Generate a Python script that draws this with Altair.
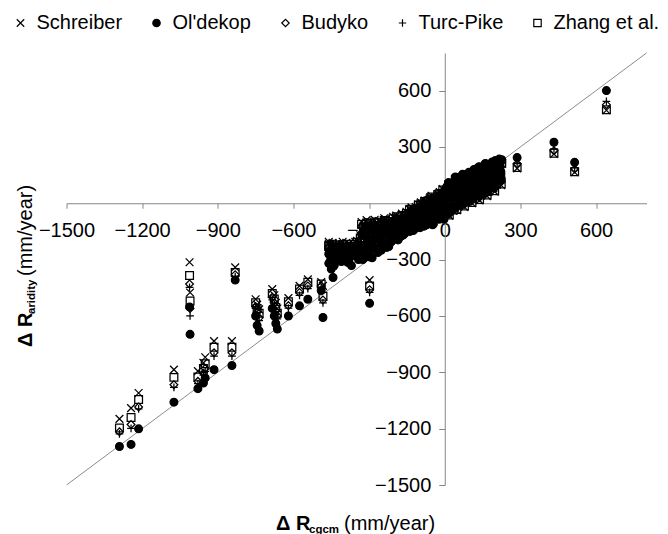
import altair as alt
import pandas as pd

FONT = "Liberation Sans"

# --- data (mm/year) ---
site_x = [
    -1290, -1244, -1214, -1074, -1012, -1010, -979, -957, -950, -915,
    -844, -831, -750, -744, -736, -684, -676, -670, -664, -620,
    -576, -543, -490, -483, -460, -450, -443, -430, -405, -380,
    -370, -355, -298,
    -335, -330, -325, -318, -310, -305, -300, -290, -283, -278,
    -270, -265, -255, -248, -240, -230, -225, -218, -212, -205,
    -195, -190, -182, -176, -170, -158, -152, -145, -138, -132,
    -120, -115, -108, -100, -95, -82, -76, -70, -62, -58,
    -45, -38, -32, -25, -20, -10, -5, 0,
    8, 12, 18, 22, 28, 34, 38, 45, 48, 53,
    58, 63, 68, 74, 78, 83, 88, 93, 98, 103,
    108, 113, 118, 123, 128, 133, 138, 143, 148, 153,
    158, 163, 168, 173, 178, 183, 188, 193, 198, 203,
    208, 212, 216, 220, 224,
    287, 433, 515, 641,
]

schreiber = [
    -1148, -1091, -1010, -886, -314, -475, -894, -850, -820, -734,
    -734, -341, -511, -540, -565, -457, -490, -530, -560, -505,
    -440, -405, -420, -440, -205, -260, -300, -220, -205, -215,
    -240, -205, -409,
    -170, -100, -210, -150, -90, -120, -200, -140, -160, -88,
    -110, -185, -130, -150, -80, -165, -95, -115, -140, -72,
    -140, -80, -100, -125, -55, -110, -45, -75, -100, -22,
    -90, -20, -45, -75, 5, -70, 10, -25, -50, 32,
    -60, 30, -5, -35, 60, -40, 40, 15,
    66, 33, -66, 55, 10, -40, 86, 62, -37, 90,
    36, 0, 113, 78, -20, 18, 57, 95, 132, 36,
    0, 117, 79, 45, 152, 127, 15, 62, 102, 140,
    170, 76, 38, 159, 125, 90, 184, 159, 62, 104,
    144, 173, 198, 124, 96,
    186, 262, 165, 495,
]

oldekop = [
    -1295, -1284, -1201, -1059, -552, -698, -987, -957, -930, -886,
    -864, -409, -600, -650, -680, -560, -600, -640, -670, -600,
    -546, -511, -465, -608, -320, -350, -395, -300, -290, -300,
    -332, -280, -533,
    -250, -165, -300, -230, -160, -200, -285, -215, -240, -150,
    -180, -262, -200, -225, -140, -235, -160, -178, -205, -128,
    -190, -138, -155, -178, -108, -160, -98, -125, -150, -72,
    -138, -68, -92, -125, -40, -122, -35, -70, -100, -12,
    -110, -10, -48, -78, 20, -82, 5, -20,
    88, 50, -50, 75, 30, -20, 110, 85, -15, 115,
    60, 25, 140, 105, 5, 45, 85, 125, 162, 65,
    28, 148, 110, 75, 185, 160, 45, 95, 135, 175,
    205, 110, 70, 195, 160, 125, 220, 195, 95, 140,
    180, 210, 235, 160, 130,
    243, 325, 218, 600,
]

budyko = [
    -1217, -1178, -1085, -966, -430, -560, -948, -905, -880, -796,
    -796, -380, -550, -580, -610, -500, -530, -575, -600, -545,
    -475, -440, -440, -515, -250, -300, -340, -255, -235, -245,
    -270, -230, -460,
    -198, -125, -240, -178, -118, -146, -230, -165, -188, -112,
    -134, -210, -155, -174, -102, -190, -117, -136, -162, -92,
    -160, -100, -120, -145, -74, -130, -64, -93, -118, -40,
    -108, -38, -62, -92, -12, -86, -6, -41, -66, 16,
    -75, 15, -20, -50, 45, -54, 27, 2,
    80, 43, -57, 67, 22, -28, 99, 75, -25, 104,
    49, 14, 128, 93, -6, 33, 73, 111, 148, 52,
    15, 134, 96, 61, 170, 145, 31, 80, 120, 159,
    189, 95, 56, 178, 144, 109, 204, 178, 80, 124,
    163, 193, 218, 143, 115,
    210, 280, 182, 525,
]

turc_pike = [
    -1228, -1198, -1095, -980, -448, -600, -960, -915, -895, -814,
    -814, -390, -560, -600, -625, -515, -545, -590, -615, -558,
    -490, -455, -450, -530, -262, -310, -350, -265, -245, -255,
    -280, -240, -475,
    -206, -132, -250, -185, -125, -153, -240, -172, -195, -118,
    -140, -218, -160, -180, -108, -196, -122, -142, -168, -98,
    -166, -105, -125, -150, -80, -135, -69, -98, -123, -45,
    -112, -42, -66, -96, -16, -90, -10, -45, -70, 12,
    -79, 12, -23, -53, 42, -58, 24, -2,
    82, 45, -55, 69, 24, -26, 102, 78, -22, 107,
    52, 17, 131, 96, -3, 37, 76, 115, 152, 56,
    19, 138, 100, 65, 174, 149, 35, 84, 124, 163,
    193, 99, 60, 183, 148, 113, 208, 183, 84, 128,
    168, 198, 223, 148, 119,
    215, 290, 190, 543,
]

zhang = [
    -1197, -1141, -1045, -927, -385, -520, -925, -880, -855, -766,
    -766, -368, -530, -560, -585, -480, -510, -555, -585, -525,
    -457, -421, -430, -495, -230, -280, -320, -240, -220, -230,
    -255, -218, -440,
    -185, -112, -225, -165, -105, -135, -215, -155, -175, -100,
    -122, -198, -142, -162, -92, -178, -106, -126, -152, -82,
    -150, -90, -110, -135, -65, -120, -55, -85, -110, -32,
    -100, -30, -54, -84, -4, -78, 2, -34, -58, 24,
    -68, 22, -13, -43, 52, -48, 32, 8,
    70, 36, -63, 58, 14, -36, 90, 66, -33, 94,
    40, 5, 118, 82, -15, 23, 62, 100, 137, 41,
    4, 122, 84, 50, 158, 133, 20, 68, 107, 146,
    176, 82, 44, 165, 130, 96, 190, 165, 67, 110,
    150, 179, 204, 130, 102,
    190, 266, 168, 498,
]

# more stations inside the dense cloud around the origin
dense_x = [
    -460, -452, -445, -438, -425, -418, -410, -398, -390, -385,
    -362, -348, -342, -322, -315, -295, -288, -275, -262, -252,
    -245, -235, -222, -215, -200, -192, -185, -172, -165, -155,
    -148, -140, -128, -125, -112, -105, -98, -88, -80, -72,
    -65, -52, -48, -42, -28, -22, -15, -8, -3,
    4, 10, 15, 25, 31, 42, 50, 56, 66, 71,
    80, 86, 91, 96, 101, 106, 111, 116, 121, 126,
    131, 136, 141, 146, 151, 156, 161, 166, 171, 176,
    181, 186, 191, 196, 201, 206, 210, 214, 218, 222,
    226,
]
dense_schreiber = [
    -215, -235, -210, -250, -240, -215, -250, -230, -210, -260,
    -225, -200, -250, -120, -190, -100, -230, -135, -95, -200,
    -110, -85, -180, -90, -105, -65, -150, -80, -130, -60,
    -110, -30, -70, -110, -50, -5, -100, -30, 15, -80,
    -10, 40, -85, -25, 50, -55, 20, 75, -55,
    -50, 10, 95, -35, 55, 125, 15, -10, 70, 135,
    30, 100, 10, 145, 80, 45, 25, 160, 100, 35,
    70, 175, 115, 50, 85, 155, 190, 125, 60, 95,
    180, 145, 80, 115, 205, 100, 160, 125, 190, 145,
    210,
]
dense_oldekop = [
    -270, -300, -250, -330, -280, -260, -310, -270, -250, -315,
    -265, -245, -300, -170, -260, -140, -290, -190, -135, -250,
    -160, -120, -230, -130, -160, -100, -195, -125, -170, -95,
    -145, -65, -110, -145, -85, -35, -130, -65, -15, -115,
    -45, 10, -115, -60, 25, -85, -10, 50, -85,
    -40, 25, 110, -20, 70, 140, 32, 5, 90, 155,
    50, 120, 30, 165, 100, 65, 45, 180, 120, 55,
    92, 195, 137, 72, 108, 178, 212, 148, 82, 118,
    204, 168, 102, 138, 228, 122, 185, 148, 215, 170,
    232,
]
dense_budyko = [
    -235, -255, -225, -275, -255, -230, -270, -245, -225, -280,
    -240, -215, -268, -138, -215, -115, -250, -155, -110, -218,
    -128, -100, -198, -105, -125, -78, -168, -98, -145, -74,
    -124, -44, -86, -124, -64, -17, -112, -44, 3, -94,
    -24, 28, -98, -38, 40, -67, 8, 65, -66,
    -44, 18, 104, -27, 63, 133, 24, -2, 80, 146,
    40, 110, 20, 155, 90, 55, 35, 170, 110, 45,
    81, 185, 126, 61, 96, 166, 201, 136, 71, 106,
    192, 156, 91, 126, 216, 111, 172, 136, 202, 157,
    220,
]
dense_turc_pike = [
    -242, -262, -230, -285, -262, -236, -278, -250, -230, -288,
    -246, -222, -275, -145, -222, -120, -258, -160, -115, -224,
    -133, -104, -204, -110, -130, -82, -173, -102, -150, -78,
    -128, -48, -90, -128, -68, -20, -116, -48, 0, -98,
    -27, 25, -102, -42, 37, -70, 5, 62, -70,
    -43, 20, 106, -25, 65, 135, 26, 0, 83, 148,
    43, 113, 23, 158, 93, 58, 38, 173, 113, 48,
    84, 188, 129, 64, 99, 169, 204, 139, 74, 109,
    195, 159, 94, 129, 219, 114, 175, 139, 205, 160,
    223,
]
dense_zhang = [
    -225, -245, -218, -262, -248, -222, -260, -238, -218, -270,
    -232, -207, -258, -128, -200, -108, -240, -145, -102, -208,
    -118, -92, -188, -97, -115, -72, -158, -88, -138, -66,
    -117, -36, -78, -117, -57, -10, -106, -36, 9, -86,
    -16, 34, -90, -31, 45, -60, 14, 70, -60,
    -48, 13, 98, -32, 58, 128, 18, -7, 73, 138,
    33, 103, 13, 148, 83, 48, 28, 163, 103, 38,
    73, 178, 118, 53, 88, 158, 193, 128, 63, 98,
    183, 148, 83, 118, 208, 103, 163, 128, 193, 148,
    213,
]

series_names = ["Schreiber", "Ol'dekop", "Budyko", "Turc-Pike", "Zhang et al."]
series_values = [schreiber + dense_schreiber, oldekop + dense_oldekop,
                 budyko + dense_budyko, turc_pike + dense_turc_pike,
                 zhang + dense_zhang]
all_x = site_x + dense_x
series_shapes = ["M-1,-1L1,1M-1,1L1,-1", "circle", "diamond",
                 "M-1,0L1,0M0,-1L0,1", "square"]
series_fills = ["transparent", "black", "transparent", "transparent", "transparent"]
series_strokes = ["black"] * 5

axis_ticks = [-1500, -1200, -900, -600, -300, 0, 300, 600]
axis_min, axis_max = -1500, 800

rows = []
for name, vals in zip(series_names, series_values):
    for xv, yv in zip(all_x, vals):
        rows.append({"series": name, "rcgcm": xv, "raridity": yv})
df = pd.DataFrame(rows)
df["order"] = range(len(df))

diag = pd.DataFrame({"rcgcm": [axis_min, axis_max], "raridity": [axis_min, axis_max]})

# --- layout ---
W, H = 580, 432
PAD_L, PAD_T = 66.5, 53
span = axis_max - axis_min
y_zero_px = H * axis_max / span
x_zero_px = W * (0 - axis_min) / span

xs = alt.Scale(domain=[axis_min, axis_max], nice=False, zero=False)
ys = alt.Scale(domain=[axis_min, axis_max], nice=False, zero=False)

common_axis = dict(
    values=axis_ticks, format="d", title=None, grid=False, labelFontSize=20,
    labelFont=FONT, labelColor="black", labelFlush=False, labelOverlap=False,
    domainColor="#868686", tickColor="#868686", domainWidth=1, tickWidth=1, zindex=0,
)
x_axis = alt.Axis(orient="bottom", offset=-(H - y_zero_px), tickSize=5,
                  labelPadding=12, **common_axis)
y_axis = alt.Axis(orient="left", offset=-x_zero_px, tickSize=6,
                  labelPadding=8, **common_axis)

X = alt.X("rcgcm:Q", scale=xs, axis=x_axis)
Y = alt.Y("raridity:Q", scale=ys, axis=y_axis)

line = alt.Chart(diag).mark_line(color="#8c8c8c", strokeWidth=1).encode(x=X, y=Y)

legend = alt.Legend(
    title=None, orient="none", legendX=-56, legendY=-40, direction="horizontal",
    columns=5, symbolSize=55, symbolStrokeWidth=1.2, symbolStrokeColor="black",
    labelFontSize=20, labelFont=FONT, labelColor="black", labelOffset=6,
    columnPadding=24, padding=0,
)

points = alt.Chart(df).mark_point(opacity=1, size=60, strokeWidth=1.25).encode(
    x=X, y=Y,
    shape=alt.Shape("series:N", scale=alt.Scale(domain=series_names, range=series_shapes),
                    legend=legend),
    fill=alt.Fill("series:N", scale=alt.Scale(domain=series_names, range=series_fills),
                  legend=legend),
    stroke=alt.Stroke("series:N", scale=alt.Scale(domain=series_names, range=series_strokes),
                      legend=legend),
    order=alt.Order("order:Q"),
)


def txt(s, ax, ay, size, bold, angle=0):
    props = dict(align="left", baseline="alphabetic", fontSize=size,
                 fontWeight="bold" if bold else "normal", font=FONT, color="black")
    if angle:
        props["angle"] = angle
    return alt.Chart(pd.DataFrame({"t": [s]})).mark_text(**props).encode(
        x=alt.value(ax - PAD_L), y=alt.value(ay - PAD_T), text="t:N")


titles = [
    txt("\u0394 R", 276, 530, 20, True),
    txt("cgcm", 309, 533, 11.5, True),
    txt("(mm/year)", 344, 530, 20, False),
    txt("\u0394 R", 32, 347, 20, True, 270),
    txt("aridity", 35, 314, 11.5, True, 270),
    txt("(mm/year)", 32, 276, 20, False, 270),
]

chart = alt.layer(line, points, *titles).properties(
    width=W, height=H,
    autosize=alt.AutoSizeParams(type="none"),
    padding={"left": PAD_L, "top": PAD_T, "right": 668 - PAD_L - W, "bottom": 534 - PAD_T - H},
).configure_view(stroke=None)

chart.save("out.html", embed_options={"renderer": "svg", "actions": False})
